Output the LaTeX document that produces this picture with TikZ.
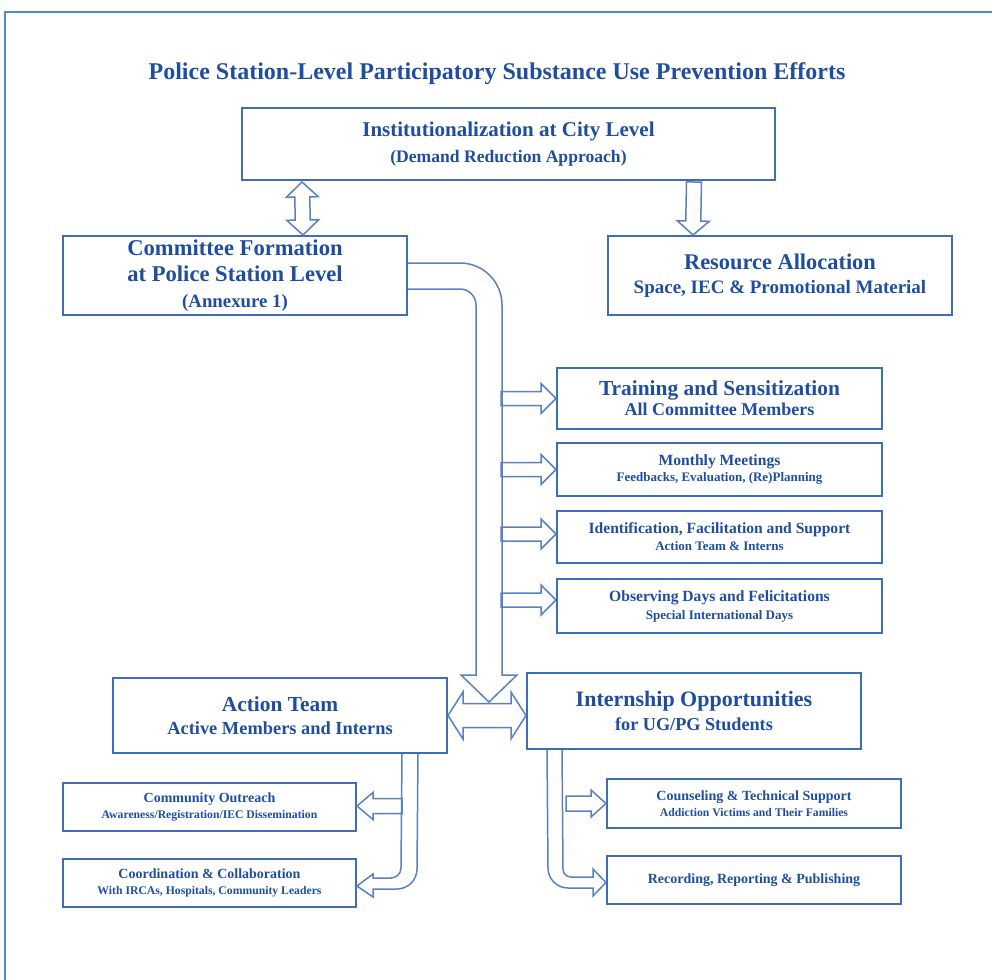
\documentclass[tikz,border=0pt]{standalone}
\usepackage{fontspec}
\setmainfont{Liberation Serif}
\usetikzlibrary{calc}

\definecolor{txtblue}{HTML}{1F4E9E}
\definecolor{boxblue}{HTML}{3F6DB8}
\definecolor{arrblue}{HTML}{5A80C0}
\definecolor{frameblue}{HTML}{4A8CD6}

\newcommand{\fs}[2]{\fontsize{#1}{#2}\selectfont}

\begin{document}
\begin{tikzpicture}[
    x=0.5pt, y=-0.5pt,
    every node/.style={font=\bfseries, text=txtblue},
    % Boxes: first line size and line spacing
    box/.style 2 args={draw=boxblue, line width=1pt, fill=white, align=center,
                       inner sep=0pt, font=\bfseries\fs{#1}{#2}},
    % Outlined block arrows
    hollow/.style={draw=arrblue, line width=0.75pt, line join=miter},
    % single block arrow: shaft half width, head half width, head length (pt)
    blockarrow/.style n args={3}{to path={
        let \p1=(\tikztostart), \p2=(\tikztotarget),
            \n1={atan2(\y2-\y1,\x2-\x1)}, \n2={veclen(\x2-\x1,\y2-\y1)-#3} in
        ($(\p1)+(\n1+90:#1pt)$)
        -- ($(\p1)+(\n1:{\n2*1pt})+(\n1+90:#1pt)$)
        -- ($(\p1)+(\n1:{\n2*1pt})+(\n1+90:#2pt)$)
        -- (\p2)
        -- ($(\p1)+(\n1:{\n2*1pt})+(\n1-90:#2pt)$)
        -- ($(\p1)+(\n1:{\n2*1pt})+(\n1-90:#1pt)$)
        -- ($(\p1)+(\n1-90:#1pt)$) -- cycle}},
    % double block arrow
    dblarrow/.style n args={3}{to path={
        let \p1=(\tikztostart), \p2=(\tikztotarget),
            \n1={atan2(\y2-\y1,\x2-\x1)}, \n2={veclen(\x2-\x1,\y2-\y1)-#3} in
        (\p1)
        -- ($(\p1)+(\n1:#3pt)+(\n1+90:#2pt)$)
        -- ($(\p1)+(\n1:#3pt)+(\n1+90:#1pt)$)
        -- ($(\p1)+(\n1:{\n2*1pt})+(\n1+90:#1pt)$)
        -- ($(\p1)+(\n1:{\n2*1pt})+(\n1+90:#2pt)$)
        -- (\p2)
        -- ($(\p1)+(\n1:{\n2*1pt})+(\n1-90:#2pt)$)
        -- ($(\p1)+(\n1:{\n2*1pt})+(\n1-90:#1pt)$)
        -- ($(\p1)+(\n1:#3pt)+(\n1-90:#1pt)$)
        -- ($(\p1)+(\n1:#3pt)+(\n1-90:#2pt)$) -- cycle}}
]
\useasboundingbox (0,0) rectangle (992,980);

% === FRAME ===
\draw[frameblue, line width=1.4pt] (992,12) -- (5,12) -- (5,980);

% === NODES ===

% Title
\node (title) at (497,74)
  {\fs{12}{14}Police Station-Level Participatory Substance Use Prevention Efforts};

% City level on top
\node[box={10.5}{13}, minimum width=266.5pt, minimum height=36pt] (city) at (508.5,144)
  {Institutionalization at City Level\\\fs{8.8}{13}(Demand Reduction Approach)};

% Second row: committee and resources
\node[box={11.3}{13}, minimum width=172pt, minimum height=39.5pt] (committee) at (235,275.5)
  {Committee Formation\\at Police Station Level\\\fs{9.4}{13}(Annexure 1)};
\node[box={11.2}{12}, minimum width=172pt, minimum height=39.5pt] (resource) at (780,275.5)
  {Resource Allocation\\\fs{9.5}{12}Space, IEC \& Promotional Material};

% Right column of activities
\node[box={10.7}{10}, minimum width=162.5pt, minimum height=30.5pt] (training) at (719.5,398.5)
  {Training and Sensitization\\\fs{9}{10}All Committee Members};
\node[box={7.8}{8.2}, minimum width=162.5pt, minimum height=26.5pt] (monthly) at (719.5,469.5)
  {Monthly Meetings\\\fs{6.5}{8.2}Feedbacks, Evaluation, (Re)Planning};
\node[box={7.8}{8.5}, minimum width=162.5pt, minimum height=26pt] (identify) at (719.5,537)
  {Identification, Facilitation and Support\\\fs{6.5}{8.5}Action Team \& Interns};
\node[box={7.8}{9}, minimum width=162.5pt, minimum height=27pt] (observe) at (719.5,606)
  {Observing Days and Felicitations\\\fs{6.5}{9}Special International Days};

% Lower row: action team and interns
\node[box={10.7}{11.5}, minimum width=167pt, minimum height=37.5pt] (action) at (280,715.5)
  {Action Team\\\fs{9.2}{11.5}Active Members and Interns};
\node[box={11}{12}, minimum width=167pt, minimum height=38pt] (intern) at (694,711)
  {Internship Opportunities\\\fs{9.1}{12}for UG/PG Students};

% Bottom boxes
\node[box={7}{7.6}, minimum width=146.5pt, minimum height=24pt] (outreach) at (209.5,807)
  {Community Outreach\\\fs{5.85}{7.6}Awareness/Registration/IEC Dissemination};
\node[box={7}{8}, minimum width=146.5pt, minimum height=24pt] (coord) at (209.5,883)
  {Coordination \& Collaboration\\\fs{5.85}{8}With IRCAs, Hospitals, Community Leaders};
\node[box={7}{8}, minimum width=147pt, minimum height=24.5pt] (counsel) at (754,803.5)
  {Counseling \& Technical Support\\\fs{5.85}{8}Addiction Victims and Their Families};
\node[box={7}{8}, minimum width=147pt, minimum height=24pt] (record) at (754,880)
  {Recording, Reporting \& Publishing};

% === BLOCK ARROWS ===

% city <-> committee, city -> resources
\draw[hollow] ($(city.south west)+(61,1)$) to[dblarrow={3.75}{8}{7.5}] ($(committee.north)+(68,0)$);
\draw[hollow] ($(city.south east)+(-82,1)$) to[blockarrow={3.75}{8}{7}] ($(resource.north)+(-87,0)$);

% committee down to action team / interns (bent)
\draw[hollow] ($(committee.east)+(0,-12.5)$) -- (460,263)
    .. controls (483.2,263) and (502,281.8) .. (502,305)
    -- (502,675) -- (517,675) -- (489,702) -- (461,675) -- (476,675) -- (476,305)
    .. controls (476,296.2) and (468.8,289) .. (460,289)
    -- ($(committee.east)+(0,13.5)$);

% activities on the right
\draw[hollow] ($(training.west)+(-55,0)$) to[blockarrow={3.5}{7.5}{7.5}] (training.west);
\draw[hollow] ($(monthly.west)+(-55,0)$) to[blockarrow={3.5}{7.5}{7.5}] (monthly.west);
\draw[hollow] ($(identify.west)+(-55,-3)$) to[blockarrow={3.5}{7.5}{7.5}] ($(identify.west)+(0,-3)$);
\draw[hollow] ($(observe.west)+(-55,-6)$) to[blockarrow={3.5}{7.5}{7.5}] ($(observe.west)+(0,-6)$);

% action team <-> interns
\draw[hollow] (action.east) to[dblarrow={6}{11.75}{7.5}] (action.east -| intern.west);

% action team branches
\draw[hollow] ($(outreach.east)+(45,-1)$) to[blockarrow={3.75}{6.75}{8}] ($(outreach.east)+(0,-1)$);
\draw[hollow] ($(action.south east)+(-46,0)$) -- (401,868)
    .. controls (401,873.5) and (396.5,878) .. (391,878)
    -- (373,878) -- (373,874) -- ($(coord.east)+(0,3)$) -- (373,897) -- (373,889) -- (397,889)
    .. controls (408,889) and (417,880) .. (417,869)
    -- ($(action.south east)+(-30,0)$);

% interns branches
\draw[hollow] ($(counsel.west)+(-40,0)$) to[blockarrow={3.75}{6.75}{7.5}] (counsel.west);
\draw[hollow] ($(intern.south west)+(21,0)$) -- (548,868)
    .. controls (548,879) and (557,888) .. (568,888)
    -- (593,888) -- (593,896) -- ($(record.west)+(0,2.5)$) -- (593,869) -- (593,877) -- (571,877)
    .. controls (566.6,877) and (563,873.4) .. (563,869)
    -- ($(intern.south west)+(36,0)$);

\end{tikzpicture}
\end{document}
